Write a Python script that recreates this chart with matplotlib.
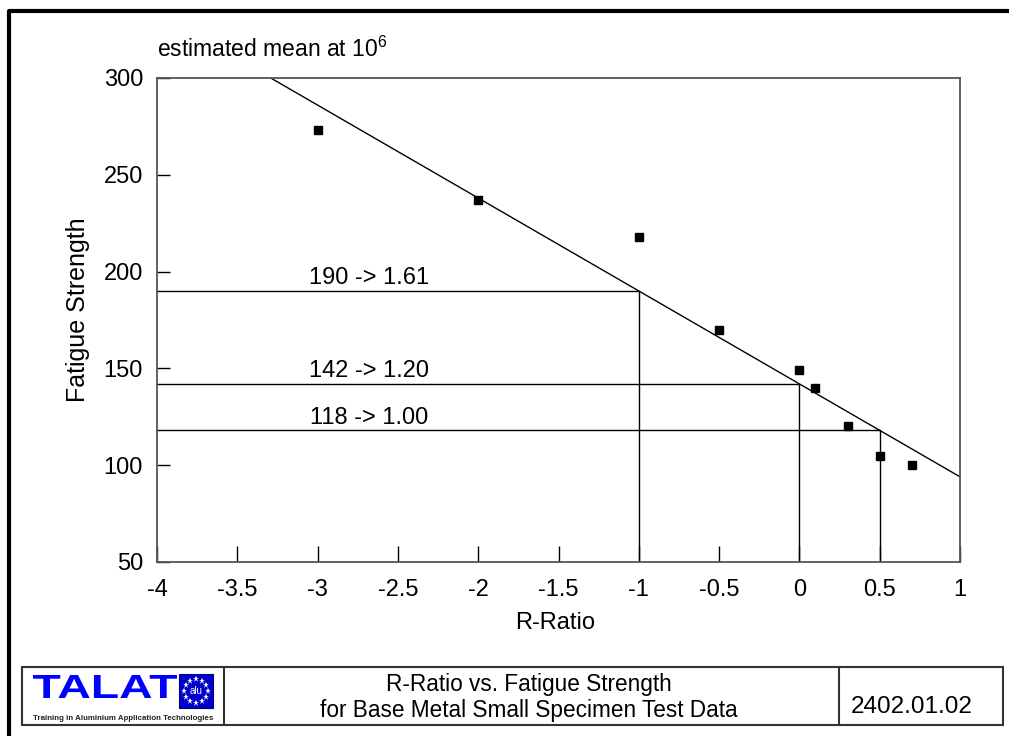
import numpy as np
import matplotlib
matplotlib.use("Agg")
import matplotlib.pyplot as plt
from matplotlib.patches import Rectangle, PathPatch
from matplotlib.textpath import TextPath
from matplotlib.font_manager import FontProperties
from matplotlib.transforms import Affine2D

plt.rcParams['font.family'] = ['Liberation Sans', 'DejaVu Sans']
plt.rcParams['mathtext.fontset'] = 'custom'
plt.rcParams['mathtext.rm'] = 'Liberation Sans'
plt.rcParams['mathtext.it'] = 'Liberation Sans'

# Measured points (R-ratio, fatigue strength at 10^6 cycles)
r_ratio = [-3.0, -2.0, -1.0, -0.5, 0.0, 0.1, 0.3, 0.5, 0.7]
fatigue_strength = [273, 237, 218, 170, 149, 140, 120, 105, 100]

# Estimated mean line: S = intercept + slope * R
fit_intercept = 142
fit_slope = -48
fit_r = [-3.29, 1.0]

# Reference readings
ref_r = [-1.0, 0.0, 0.5]
ref_s = [190, 142, 118]
ref_labels = ["190 -> 1.61", "142 -> 1.20", "118 -> 1.00"]
ref_label_x = -2.68

x_ticks = [-4, -3.5, -3, -2.5, -2, -1.5, -1, -0.5, 0, 0.5, 1]
x_tick_labels = ["-4", "-3.5", "-3", "-2.5", "-2", "-1.5", "-1", "-0.5", "0", "0.5", "1"]
y_ticks = [50, 100, 150, 200, 250, 300]

W, H = 1009, 736
fig = plt.figure(figsize=(W / 100, H / 100), dpi=100)

# Background overlay in pixel coordinates (border + footer)
bg = fig.add_axes([0, 0, 1, 1])
bg.set_xlim(0, W)
bg.set_ylim(H, 0)
bg.axis("off")

# Slide border (top and left only)
bg.plot([9, 9, W], [H, 11, 11], color="black", lw=3, solid_capstyle="butt")

# Footer boxes
bg.add_patch(Rectangle((22, 667), 981, 57.5, fill=False, edgecolor="#333333", lw=1.5))
bg.plot([224, 224], [667, 724.5], color="#333333", lw=1.5)
bg.plot([839, 839], [667, 724.5], color="#333333", lw=1.5)

# TALAT logo (stretched wide like the original)
tp = TextPath((0, 0), "TALAT", size=1,
              prop=FontProperties(family="Liberation Sans", weight="bold"))
ext = tp.get_extents()
sx = (177 - 33) / ext.width
sy = (698 - 675) / ext.height
tr = Affine2D().translate(-ext.x0, -ext.y0).scale(sx, -sy).translate(33, 698)
bg.add_patch(PathPatch(tr.transform_path(tp), facecolor="#0000FF", edgecolor="none"))
bg.add_patch(Rectangle((179, 674), 34, 34, facecolor="#0000CC", edgecolor="#000080", lw=0.8))
ang = np.linspace(0, 2 * np.pi, 13)[:-1]
bg.plot(196 + 12 * np.cos(ang), 691 + 12 * np.sin(ang), linestyle="none",
        marker="*", markersize=4.5, color="white", markeredgewidth=0)
bg.text(196, 691, "alu", color="white", fontsize=7, ha="center", va="center")
bg.text(33, 719, "Training in Aluminium Application Technologies", fontsize=5.7,
        fontweight="bold", ha="left", va="center", color="#222222")

# Footer titles
bg.text(529, 684, "R-Ratio vs. Fatigue Strength", fontsize=16.3, ha="center", va="center")
bg.text(529, 711, "for Base Metal Small Specimen Test Data", fontsize=16.3,
        ha="center", va="center")
bg.text(912, 707, "2402.01.02", fontsize=17.5, ha="center", va="center")

# Main plot
ax = fig.add_axes([157 / W, 1 - 562 / H, 803 / W, 484 / H])
ax.set_xlim(-4, 1)
ax.set_ylim(50, 300)

# Fit line
fit_s = [fit_intercept + fit_slope * r for r in fit_r]
ax.plot(fit_r, fit_s, color="black", lw=1)

# Reference lines and labels
for r, s, lab in zip(ref_r, ref_s, ref_labels):
    ax.plot([-4, r, r], [s, s, 50], color="black", lw=1)
    ax.text(ref_label_x, s + 3.5, lab, fontsize=17, ha="center", va="baseline")

# Data points
ax.plot(r_ratio, fatigue_strength, linestyle="none", marker="s", markersize=6,
        color="black")

ax.set_xticks(x_ticks)
ax.set_xticklabels(x_tick_labels)
ax.set_yticks(y_ticks)
ax.tick_params(axis="x", direction="in", length=11.5, width=1, labelsize=17, pad=12)
ax.tick_params(axis="y", direction="in", length=9.5, width=1, labelsize=17, pad=10)
for sp in ax.spines.values():
    sp.set_color("#555555")
    sp.set_linewidth(1.3)

fig.text(555 / W, 1 - 623 / H, "R-Ratio", fontsize=17, ha="center", va="center")
fig.text(78 / W, 1 - 310 / H, "Fatigue Strength", fontsize=18, rotation=90,
         ha="center", va="center")
fig.text(157 / W, 1 - 57 / H, "estimated mean at 10$^6$", fontsize=16.5,
         ha="left", va="baseline")

fig.savefig("out.png", dpi=100)
